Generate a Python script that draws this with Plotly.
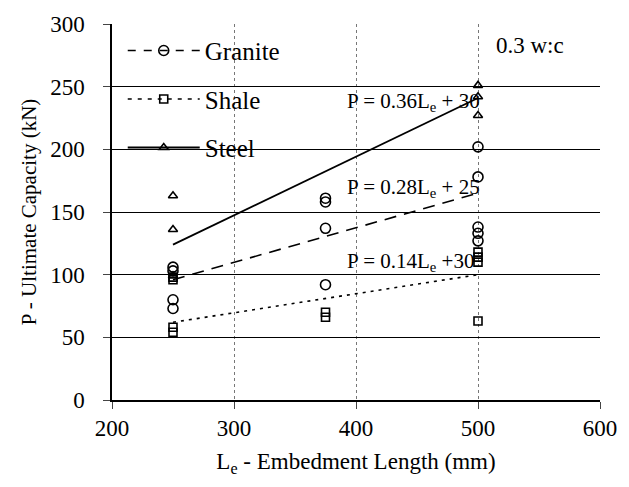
import plotly.graph_objects as go

# Data
granite_x = [250, 250, 250, 250, 375, 375, 375, 375, 500, 500, 500, 500, 500]
granite_y = [106, 103, 80, 73, 161, 158, 137, 92, 202, 178, 138, 133, 127]
shale_x = [250, 250, 250, 250, 375, 375, 500, 500, 500, 500]
shale_y = [98, 96, 58, 54, 70, 66, 118, 114, 110, 63]
steel_x = [250, 250, 250, 500, 500, 500]
steel_y = [163, 136, 99, 251, 242, 227]

# fitted lines (end points)
fit_x = [250, 500]
granite_fit = [96, 165]
shale_fit = [62, 100]
steel_fit = [124, 241]

x_ticks = [200, 300, 400, 500, 600]
y_ticks = [0, 50, 100, 150, 200, 250, 300]

FONT = "'Liberation Serif', 'Times New Roman', Times, serif"

fig = go.Figure()

# fits
fig.add_trace(go.Scatter(x=fit_x, y=granite_fit, mode="lines",
                         line=dict(color="black", width=1.6, dash="12px,8px"),
                         showlegend=False))
fig.add_trace(go.Scatter(x=fit_x, y=shale_fit, mode="lines",
                         line=dict(color="black", width=1.6, dash="3px,5px"),
                         showlegend=False))
fig.add_trace(go.Scatter(x=fit_x, y=steel_fit, mode="lines",
                         line=dict(color="black", width=1.8),
                         showlegend=False))

# data points
fig.add_trace(go.Scatter(x=granite_x, y=granite_y, mode="markers",
                         marker=dict(symbol="circle-open", size=10, color="black",
                                     line=dict(width=1.6)),
                         showlegend=False))
fig.add_trace(go.Scatter(x=shale_x, y=shale_y, mode="markers",
                         marker=dict(symbol="square-open", size=8, color="black",
                                     line=dict(width=1.6)),
                         showlegend=False))
fig.add_trace(go.Scatter(x=steel_x, y=steel_y, mode="markers",
                         marker=dict(symbol="triangle-up-open", size=8, color="black",
                                     line=dict(width=1.6)),
                         showlegend=False))

# legend entries
fig.add_trace(go.Scatter(x=[None], y=[None], mode="lines+markers", name="Granite",
                         legendgroup="g",
                         line=dict(color="black", width=1.6, dash="8px,8px"),
                         marker=dict(symbol="circle-open", size=10, color="black",
                                     line=dict(width=1.6))))
fig.add_trace(go.Scatter(x=[None], y=[None], mode="lines+markers", name="Shale",
                         legendgroup="s",
                         line=dict(color="black", width=1.6, dash="4px,6px"),
                         marker=dict(symbol="square-open", size=8, color="black",
                                     line=dict(width=1.6))))
fig.add_trace(go.Scatter(x=[None], y=[None], mode="lines+markers", name="Steel",
                         legendgroup="t",
                         line=dict(color="black", width=1.8),
                         marker=dict(symbol="triangle-up-open", size=8, color="black",
                                     line=dict(width=1.6))))

ann_font = dict(family=FONT, size=21, color="black")
fig.add_annotation(x=391, y=238, text="P = 0.36L<sub>e</sub> + 30", showarrow=False,
                   xanchor="left", yanchor="middle", font=ann_font)
fig.add_annotation(x=391, y=169, text="P = 0.28L<sub>e</sub> + 25", showarrow=False,
                   xanchor="left", yanchor="middle", font=ann_font)
fig.add_annotation(x=391, y=110, text="P = 0.14L<sub>e</sub> +30", showarrow=False,
                   xanchor="left", yanchor="middle", font=ann_font)
fig.add_annotation(x=543, y=283, text="0.3 w:c", showarrow=False,
                   xanchor="center", yanchor="middle",
                   font=dict(family=FONT, size=23, color="black"))

fig.update_layout(
    width=629, height=487,
    margin=dict(l=112, r=24, t=20, b=87),
    plot_bgcolor="white", paper_bgcolor="white",
    font=dict(family=FONT, size=23, color="black"),
    legend=dict(x=0.022, y=0.99, xanchor="left", yanchor="top",
                bgcolor="rgba(0,0,0,0)", tracegroupgap=13, itemwidth=72,
                font=dict(family=FONT, size=25)),
    xaxis=dict(range=[200, 600], tickvals=x_ticks, ticks="outside", ticklen=7,
               tickfont=dict(family=FONT, size=23),
               showline=True, linecolor="black", linewidth=1.5,
               showgrid=True, gridcolor="#777", griddash="dot", gridwidth=1,
               zeroline=False,
               title=dict(text="L<sub>e</sub> - Embedment Length (mm)",
                          font=dict(family=FONT, size=23), standoff=13)),
    yaxis=dict(range=[0, 300], tickvals=y_ticks, ticks="outside", ticklen=7,
               ticklabelstandoff=14,
               tickfont=dict(family=FONT, size=23),
               showline=True, linecolor="black", linewidth=1.5,
               showgrid=True, gridcolor="black", gridwidth=1.3,
               zeroline=False,
               title=dict(text="P - Ultimate Capacity (kN)",
                          font=dict(family=FONT, size=21), standoff=8)),
)

fig.write_html("out.html")
